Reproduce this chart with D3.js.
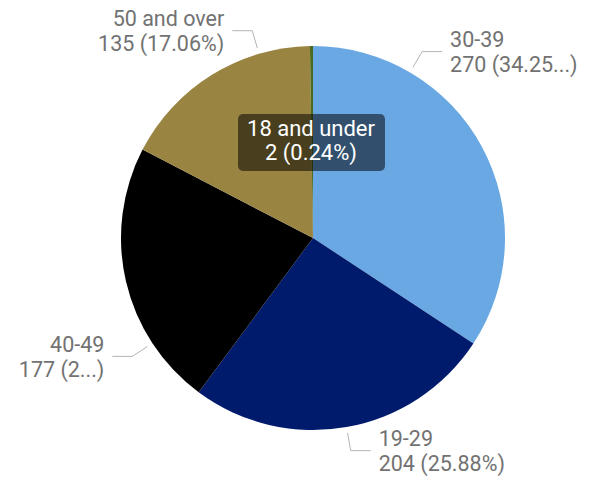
<!DOCTYPE html>
<html>
<head>
<meta charset="utf-8">
<script src="https://cdn.jsdelivr.net/npm/d3@7"></script>
<style>
  body { margin: 0; background: #fff; }
  svg text { font-family: Roboto, "DejaVu Sans", sans-serif; }
</style>
</head>
<body>
<div id="chart"></div>
<script>
// slices, clockwise from 12 o'clock
const categories = ["30-39", "19-29", "40-49", "50 and over", "18 and under"];
const counts = [270, 204, 177, 135, 2];
const percentLabels = ["34.25...", "25.88%", "2...", "17.06%", "0.24%"];
const colors = ["#6aa8e3", "#001a6c", "#000000", "#9a8442", "#4e6a1d"];

// where along each slice the leader line leaves (0..1 of the slice span)
const leaderAt = [0.246, 0.5, 0.25, 0.75, null];

const width = 594, height = 477;
const cx = 313, cy = 238, radius = 192;

const svg = d3.select("#chart").append("svg")
    .attr("width", width)
    .attr("height", height);

const g = svg.append("g")
    .attr("transform", "translate(" + cx + "," + cy + ")");

const data = categories.map(function(c, i) {
    return {name: c, value: counts[i], pct: percentLabels[i], color: colors[i], at: leaderAt[i]};
});

const pie = d3.pie().sort(null).value(function(d) { return d.value; });
const arc = d3.arc().innerRadius(0).outerRadius(radius);
const arcs = pie(data);

g.selectAll(".slice")
    .data(arcs)
    .enter().append("path")
    .attr("class", "slice")
    .attr("d", arc)
    .attr("fill", function(d) { return d.data.color; });

// leader lines + labels
const r1 = 198, r2 = 216, hLen = 20, gap = 8;
function pt(a, r) { return [r * Math.sin(a), -r * Math.cos(a)]; }

const labelled = arcs.filter(function(d) { return d.data.at != null; });
labelled.forEach(function(d) {
    const a = d.startAngle + (d.endAngle - d.startAngle) * d.data.at;
    const p1 = pt(a, r1), p2 = pt(a, r2);
    const right = Math.sin(a) >= 0;
    const p3 = [p2[0] + (right ? hLen : -hLen), p2[1]];
    g.append("polyline")
        .attr("points", [p1, p2, p3].map(function(p) { return p.join(","); }).join(" "))
        .attr("fill", "none")
        .attr("stroke", "#b3b3b3")
        .attr("stroke-width", 1);
    const tx = p3[0] + (right ? gap : -gap);
    const t = g.append("text")
        .attr("x", tx)
        .attr("y", p3[1])
        .attr("text-anchor", right ? "start" : "end")
        .attr("fill", "#727272")
        .attr("font-size", 21.5);
    t.append("tspan").attr("x", tx).attr("dy", "-0.22em").text(d.data.name);
    t.append("tspan").attr("x", tx).attr("dy", "1.17em")
        .text(d.data.value + " (" + d.data.pct + ")");
});

// hover tooltip for the tiny slice
const tip = arcs[arcs.length - 1].data;
const tg = svg.append("g").attr("transform", "translate(311,142)");
tg.append("rect")
    .attr("x", -73).attr("y", -28)
    .attr("width", 147).attr("height", 57)
    .attr("rx", 5)
    .attr("fill", "rgba(0,0,0,0.52)");
const tt = tg.append("text")
    .attr("text-anchor", "middle")
    .attr("fill", "#fff")
    .attr("font-size", 22);
tt.append("tspan").attr("x", 0).attr("y", -6).text(tip.name);
tt.append("tspan").attr("x", 0).attr("y", 18).text(tip.value + " (" + tip.pct + ")");
</script>
</body>
</html>
